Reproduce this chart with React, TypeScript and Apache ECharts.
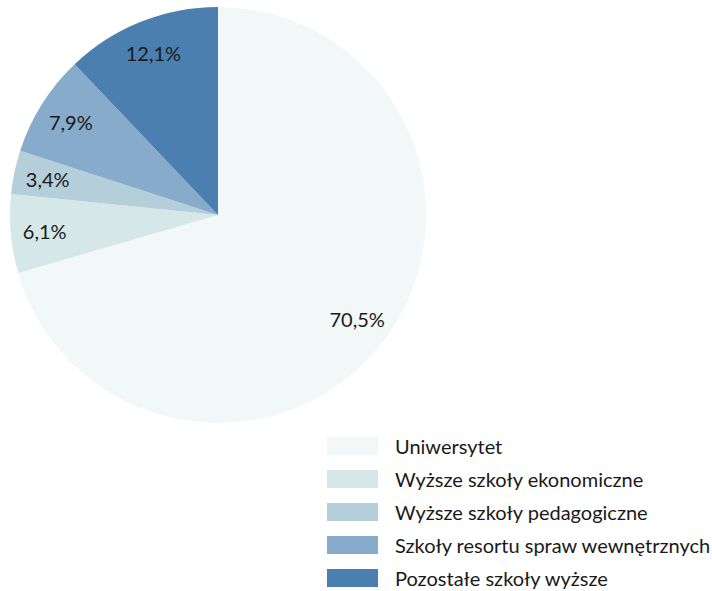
import React, { useEffect, useRef } from "react";
import * as echarts from "echarts";

const categories = [
  "Uniwersytet",
  "Wyższe szkoły ekonomiczne",
  "Wyższe szkoły pedagogiczne",
  "Szkoły resortu spraw wewnętrznych",
  "Pozostałe szkoły wyższe",
];
const values = [70.5, 6.1, 3.4, 7.9, 12.1];
const colors = ["#F2F7F7", "#D6E7E8", "#B5CFDA", "#87ABCB", "#4A7FB0"];

export default function App() {
  const ref = useRef<HTMLDivElement>(null);
  useEffect(() => {
    if (!ref.current) return;
    const chart = echarts.init(ref.current, undefined, { renderer: "svg" });
    const data = categories.map((name, i) => ({
      name,
      value: values[i],
      itemStyle: { color: colors[i] },
    }));
    const font = "Lato, 'Open Sans', sans-serif";
    chart.setOption({
      animation: false,
      legend: {
        orient: "vertical",
        left: 327,
        top: 436,
        height: 300,
        padding: 0,
        itemWidth: 51,
        itemHeight: 18,
        itemGap: 13,
        icon: "rect",
        data: categories,
        textStyle: {
          fontFamily: font,
          fontSize: 20,
          color: "#1a1a1a",
          padding: [0, 0, 0, 12],
        },
        selectedMode: false,
      },
      series: [
        {
          type: "pie",
          center: [218, 215],
          radius: [0, 208],
          startAngle: 90,
          clockwise: true,
          label: { show: false },
          labelLine: { show: false },
          silent: true,
          data,
        },
        {
          type: "pie",
          center: [218, 215],
          radius: [134, 208],
          startAngle: 90,
          clockwise: true,
          silent: true,
          itemStyle: { color: "transparent" },
          label: {
            show: true,
            position: "inside",
            formatter: (p: any) => p.value.toFixed(1).replace(".", ",") + "%",
            fontFamily: font,
            fontSize: 20,
            color: "#1a1a1a",
          },
          labelLine: { show: false },
          data: categories.map((name, i) => ({
            name,
            value: values[i],
            itemStyle: { color: "transparent" },
          })),
        },
      ],
    });
    return () => chart.dispose();
  }, []);
  return (
    <div
      ref={ref}
      style={{ position: "absolute", left: 0, top: 0, width: 712, height: 591, background: "#fff" }}
    />
  );
}
